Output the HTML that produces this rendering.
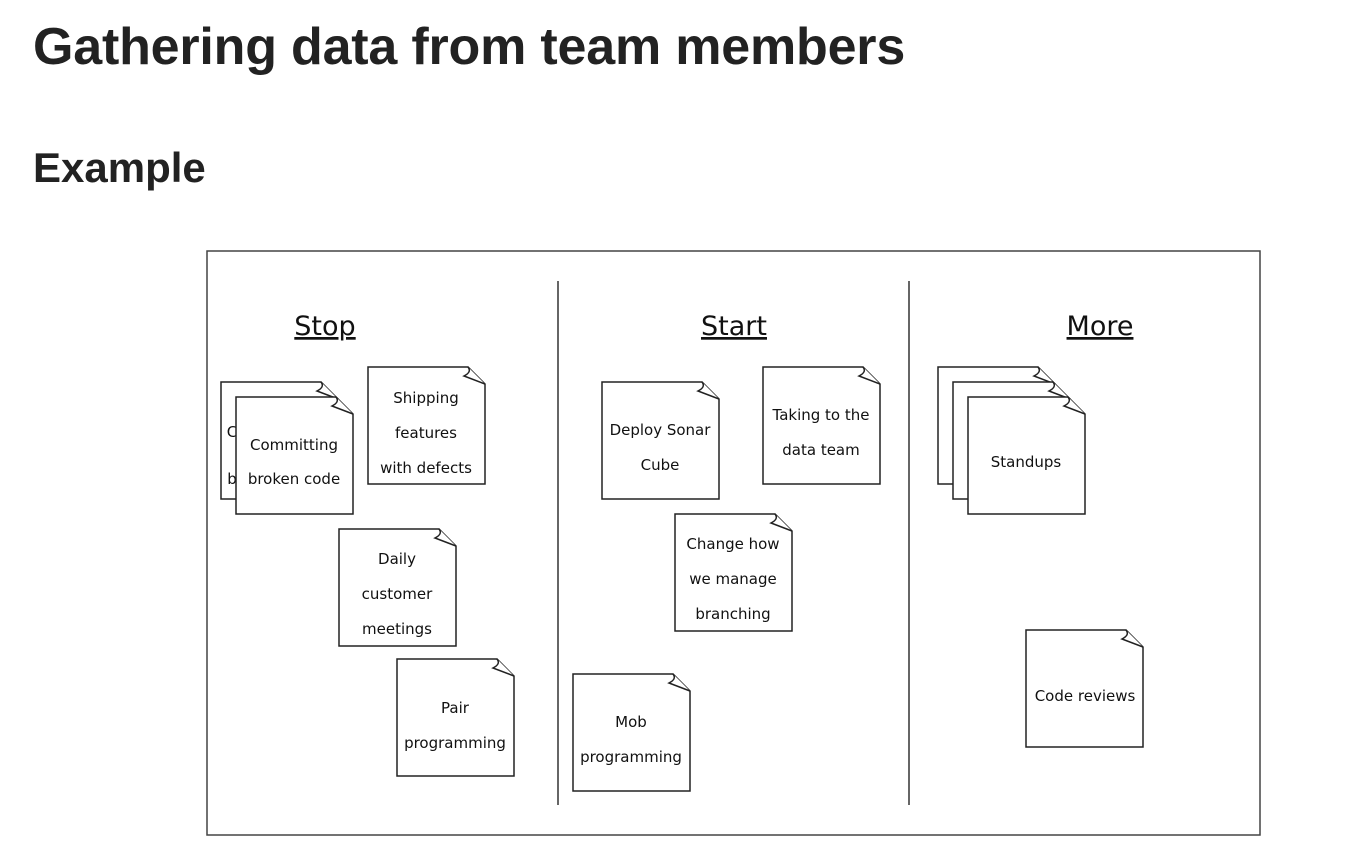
<!DOCTYPE html>
<html><head><meta charset="utf-8"><style>
html,body{margin:0;padding:0;background:#fff;width:1351px;height:863px;overflow:hidden}
h1,h2{font-family:"Liberation Sans",sans-serif;color:#222;margin:0;position:absolute;left:33px;line-height:1}
h1{font-size:52px;top:21px;font-weight:bold;letter-spacing:-0.2px}
h2{font-size:42px;top:147px;font-weight:bold}
svg{position:absolute;left:0;top:0}
.t{font-family:"Comic Sans MS","DejaVu Sans",sans-serif;font-size:15px;fill:#111;text-anchor:middle}
.h{font-family:"Comic Sans MS","DejaVu Sans",sans-serif;font-size:27px;fill:#111;text-anchor:middle;text-decoration:underline}
</style></head><body>
<h1>Gathering data from team members</h1>
<h2>Example</h2>
<svg width="1351" height="863" viewBox="0 0 1351 863">
<defs>
<g id="n">
<path d="M0,0 H100 L117,17 V117 H0 Z" fill="#fff" stroke="#222" stroke-width="1.5"/>
<path d="M100,0 Q104,5 96,9 L117,17" fill="#fff" stroke="#222" stroke-width="1.5"/>
</g>
</defs>
<rect x="207" y="251" width="1053" height="584" fill="#fff" stroke="#444" stroke-width="1.5"/>
<line x1="558" y1="281" x2="558" y2="805" stroke="#333" stroke-width="1.5"/>
<line x1="909" y1="281" x2="909" y2="805" stroke="#333" stroke-width="1.5"/>
<text class="h" x="325" y="335">Stop</text>
<text class="h" x="734" y="335">Start</text>
<text class="h" x="1100" y="335">More</text>

<use href="#n" x="221" y="382"/>
<text class="t" x="232" y="437">C</text>
<text class="t" x="232" y="484">b</text>
<use href="#n" x="236" y="397"/>
<text class="t" x="294" y="450">Committing</text>
<text class="t" x="294" y="484">broken code</text>

<use href="#n" x="368" y="367"/>
<text class="t" x="426" y="403">Shipping</text>
<text class="t" x="426" y="438">features</text>
<text class="t" x="426" y="473">with defects</text>

<use href="#n" x="339" y="529"/>
<text class="t" x="397" y="564">Daily</text>
<text class="t" x="397" y="599">customer</text>
<text class="t" x="397" y="634">meetings</text>

<use href="#n" x="397" y="659"/>
<text class="t" x="455" y="713">Pair</text>
<text class="t" x="455" y="748">programming</text>

<use href="#n" x="602" y="382"/>
<text class="t" x="660" y="435">Deploy Sonar</text>
<text class="t" x="660" y="470">Cube</text>

<use href="#n" x="763" y="367"/>
<text class="t" x="821" y="420">Taking to the</text>
<text class="t" x="821" y="455">data team</text>

<use href="#n" x="675" y="514"/>
<text class="t" x="733" y="549">Change how</text>
<text class="t" x="733" y="584">we manage</text>
<text class="t" x="733" y="619">branching</text>

<use href="#n" x="573" y="674"/>
<text class="t" x="631" y="727">Mob</text>
<text class="t" x="631" y="762">programming</text>

<use href="#n" x="938" y="367"/>
<use href="#n" x="953" y="382"/>
<use href="#n" x="968" y="397"/>
<text class="t" x="1026" y="467">Standups</text>

<use href="#n" x="1026" y="630"/>
<text class="t" x="1085" y="701">Code reviews</text>
</svg>
</body></html>
